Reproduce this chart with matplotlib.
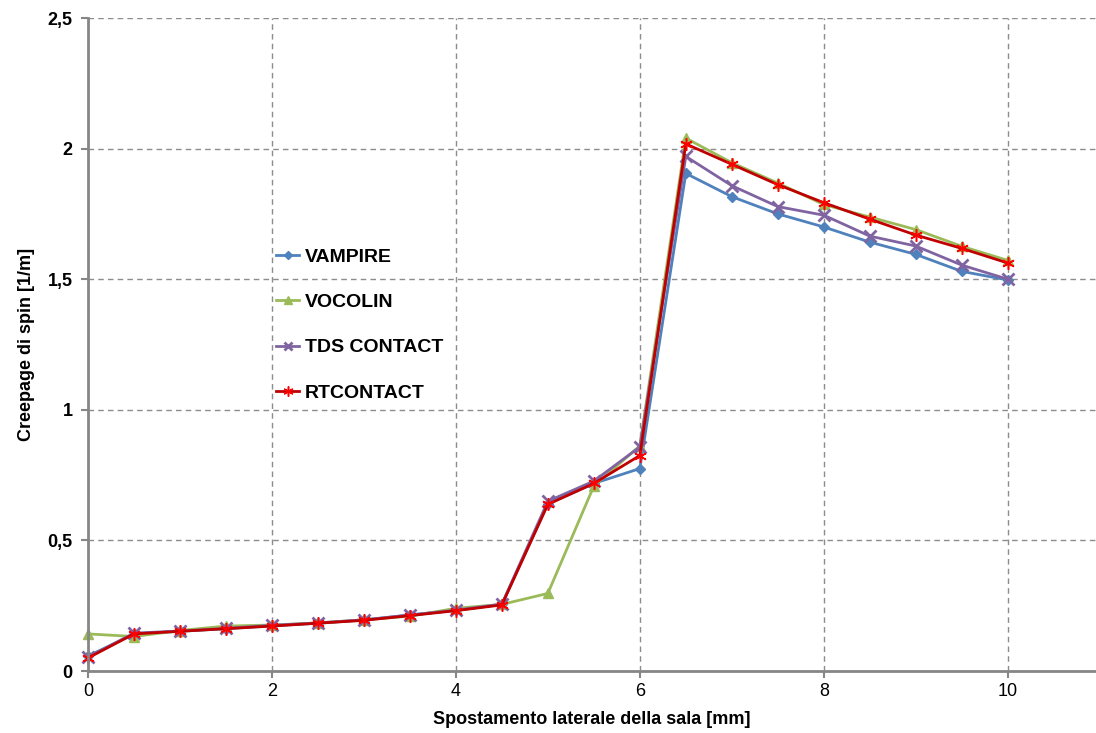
import numpy as np
import matplotlib.pyplot as plt

plt.rcParams['font.family'] = ['Liberation Sans', 'DejaVu Sans']

# spostamento laterale [mm]
x = [0, 0.5, 1, 1.5, 2, 2.5, 3, 3.5, 4, 4.5, 5, 5.5, 6, 6.5, 7, 7.5, 8, 8.5, 9, 9.5, 10]

vampire = [0.057, 0.142, 0.152, 0.162, 0.173, 0.183, 0.195, 0.215, 0.232, 0.255, 0.640, 0.718,
           0.775, 1.905, 1.816, 1.750, 1.700, 1.642, 1.595, 1.530, 1.497]
vocolin = [0.142, 0.132, 0.155, 0.172, 0.176, 0.184, 0.196, 0.210, 0.240, 0.255, 0.297, 0.708,
           0.862, 2.040, 1.946, 1.868, 1.786, 1.738, 1.690, 1.626, 1.572]
tds = [0.052, 0.145, 0.153, 0.163, 0.175, 0.184, 0.196, 0.214, 0.233, 0.256, 0.650, 0.727,
       0.858, 1.970, 1.858, 1.778, 1.745, 1.665, 1.627, 1.554, 1.500]
rtcontact = [0.050, 0.142, 0.152, 0.162, 0.172, 0.183, 0.194, 0.212, 0.231, 0.253, 0.638, 0.718,
             0.825, 2.018, 1.940, 1.862, 1.793, 1.730, 1.669, 1.618, 1.562]

yticks = [0, 0.5, 1, 1.5, 2, 2.5]
ytick_labels = ['0', '0,5', '1', '1,5', '2', '2,5']
xticks = [0, 2, 4, 6, 8, 10]

fig = plt.figure(figsize=(10.96, 7.33), dpi=100)
ax = fig.add_axes([88 / 1096, 62 / 733, 1008 / 1096, 653 / 733])

ax.plot(x, vampire, color='#4F81BD', lw=2.0, marker='D', ms=5, label='VAMPIRE', clip_on=False)
ax.plot(x, vocolin, color='#9BBB59', lw=2.0, marker='^', ms=7, label='VOCOLIN', clip_on=False)
ax.plot(x, tds, color='#8064A2', lw=2.0, marker='x', ms=8, mew=2, label='TDS CONTACT', clip_on=False)
ax.plot(x, rtcontact, color='#C00000', lw=2.0, marker=(6, 2, 0), ms=9, mew=1.1,
        mec='#FF0000', label='RTCONTACT', clip_on=False)

ax.set_xlim(0, 10.96)
ax.set_ylim(0, 2.5)
ax.set_xticks(xticks)
ax.set_xticklabels([str(v) for v in xticks], fontsize=13)
ax.set_yticks(yticks)
ax.set_yticklabels(ytick_labels, fontsize=13, fontweight='bold')

ax.grid(True, ls=(0, (4, 3)), color='#8c8c8c', lw=1.0)
ax.set_axisbelow(True)
for s in ['top', 'right']:
    ax.spines[s].set_visible(False)
for s in ['left', 'bottom']:
    ax.spines[s].set_color('#868686')
    ax.spines[s].set_linewidth(2)
ax.tick_params(axis='both', colors='#868686', length=5, width=1.5, labelcolor='black')
ax.tick_params(axis='y', pad=6)

ax.set_xlabel('Spostamento laterale della sala [mm]', fontsize=13, fontweight='bold', labelpad=8)
ax.set_ylabel('Creepage di spin [1/m]', fontsize=13, fontweight='bold', labelpad=9)

ax.legend(loc='center left', bbox_to_anchor=(276 / 1096, 408 / 733), bbox_transform=fig.transFigure,
          frameon=False, prop={'weight': 'bold', 'size': 14}, labelspacing=1.42,
          handlelength=1.2, handletextpad=0.3, borderpad=0, borderaxespad=0, markerscale=0.8)

fig.savefig('out.png', dpi=100)
